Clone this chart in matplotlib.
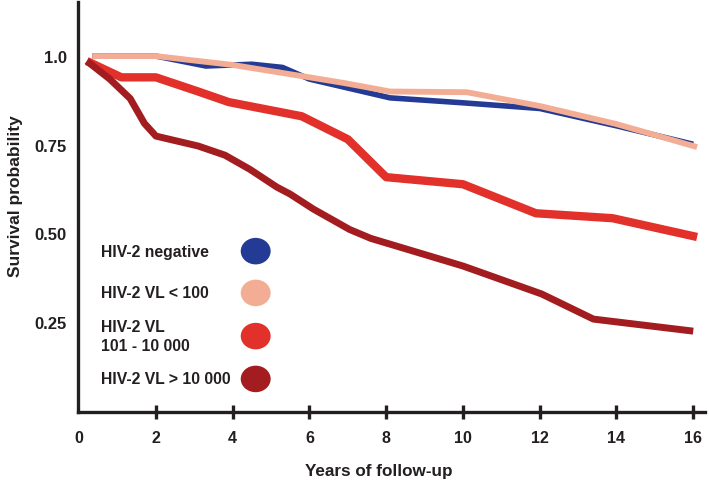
import matplotlib
matplotlib.use('Agg')
from matplotlib import pyplot as plt
from matplotlib.patches import Ellipse

plt.rcParams['font.family'] = ['Liberation Sans', 'DejaVu Sans']
plt.rcParams['font.weight'] = 'bold'

# survival curves (years, probability)
neg_x = [0.34, 2.0, 3.3, 4.5, 5.3, 6.0, 8.1, 10.0, 12.0, 14.0, 16.0]
neg_y = [1.0, 1.0, 0.972, 0.977, 0.968, 0.935, 0.882, 0.868, 0.852, 0.803, 0.751]

low_x = [0.34, 2.0, 4.0, 6.0, 6.9, 8.1, 10.1, 12.0, 14.0, 16.1]
low_y = [1.0, 1.0, 0.975, 0.94, 0.924, 0.90, 0.898, 0.859, 0.808, 0.743]

mid_x = [0.2, 1.1, 2.0, 3.1, 3.9, 5.8, 7.0, 8.0, 10.0, 11.9, 13.9, 16.1]
mid_y = [0.986, 0.94, 0.94, 0.90, 0.87, 0.83, 0.765, 0.658, 0.638, 0.556, 0.542, 0.489]

high_x = [0.2, 0.8, 1.33, 1.7, 2.0, 3.1, 3.8, 4.45, 5.15, 5.5, 6.1, 7.05, 7.6,
          10.0, 12.05, 13.4, 16.0]
high_y = [0.986, 0.935, 0.88, 0.81, 0.774, 0.746, 0.72, 0.68, 0.63, 0.61, 0.568,
          0.51, 0.485, 0.407, 0.328, 0.257, 0.223]

labels = ['HIV-2 negative', 'HIV-2 VL < 100', 'HIV-2 VL\n101 - 10 000', 'HIV-2 VL > 10 000']
colors = ['#233b95', '#f3ad94', '#e2302a', '#a31d20']
widths = [4.0, 4.2, 6.0, 5.0]

x_ticks = [0, 2, 4, 6, 8, 10, 12, 14, 16]
y_ticks = [1.0, 0.75, 0.50, 0.25]
y_tick_labels = ['1.0', '0.75', '0.50', '0.25']

fig = plt.figure(figsize=(7.09, 4.89), dpi=100)
ax = fig.add_axes([0.110, 0.155, 0.884, 0.839])

curves = [(neg_x, neg_y), (low_x, low_y), (mid_x, mid_y), (high_x, high_y)]
for (xs, ys), c, lw in zip(curves, colors, widths):
    ax.plot(xs, ys, color=c, lw=lw, solid_capstyle='butt', solid_joinstyle='round')

# legend: text on the left, coloured ellipse on the right
leg_y = [0.449, 0.331, 0.209, 0.088]
for lab, c, yy in zip(labels, colors, leg_y):
    ax.text(0.57, yy, lab, fontsize=11.3, fontweight='bold', va='center', ha='left',
            color='#231f20', linespacing=1.3)
    ax.add_patch(Ellipse((4.6, yy), 0.78, 0.075, color=c, lw=0))

ax.set_xlim(-0.03, 16.3)
ax.set_ylim(-0.006, 1.153)

for side in ['top', 'right']:
    ax.spines[side].set_visible(False)
for side in ['left', 'bottom']:
    ax.spines[side].set_linewidth(2.4)
    ax.spines[side].set_color('#231f20')

ax.set_xticks(x_ticks)
ax.tick_params(axis='x', direction='inout', length=10, width=2.4, color='#231f20',
               pad=8, labelsize=11.5)
ax.xaxis.get_major_ticks()[0].tick1line.set_visible(False)
ax.set_yticks(y_ticks)
ax.set_yticklabels(y_tick_labels)
ax.tick_params(axis='y', length=0, pad=8, labelsize=12)
for t in ax.get_xticklabels() + ax.get_yticklabels():
    t.set_fontweight('bold')
    t.set_color('#231f20')

ax.set_xlabel('Years of follow-up', fontsize=12.3, fontweight='bold', color='#231f20')
ax.set_ylabel('Survival probability', fontsize=12.5, fontweight='bold', color='#231f20')
ax.xaxis.set_label_coords(0.48, -0.125)
ax.yaxis.set_label_coords(-0.088, 0.53)

fig.savefig('out.png', dpi=100)
